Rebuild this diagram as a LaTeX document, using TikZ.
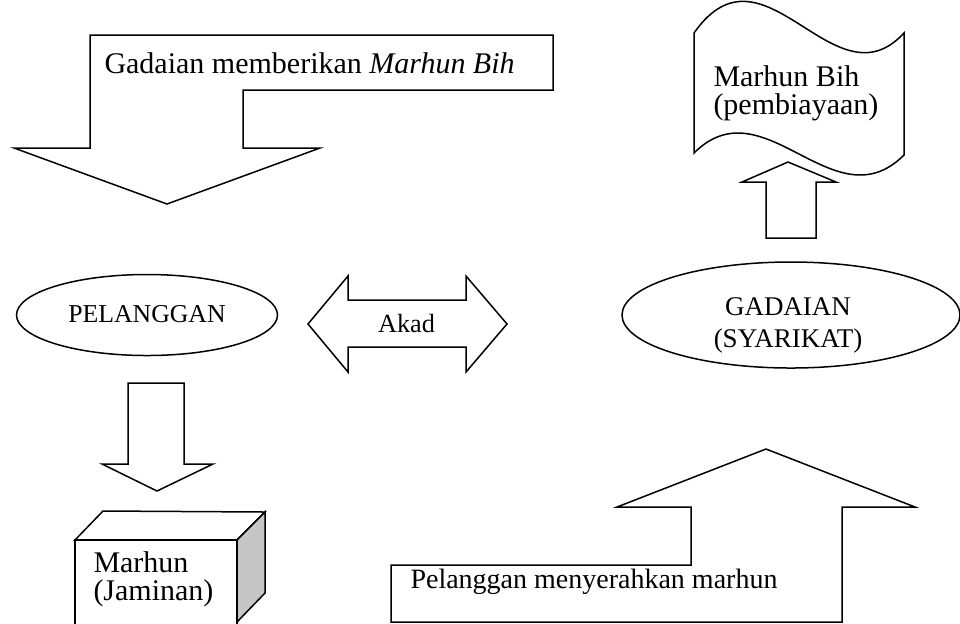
\documentclass[tikz,border=0pt]{standalone}
\usepackage{fontspec}
\setmainfont{Liberation Serif}
\usetikzlibrary{shapes.geometric}

\tikzset{
  blok/.style={draw, line width=0.6pt, fill=white},
  teks/.style={font=\fontsize{12}{14}\selectfont, inner sep=0pt},
  oval/.style={draw, ellipse, line width=0.6pt, inner sep=0pt}
}

\begin{document}
\begin{tikzpicture}[x=0.4pt, y=-0.4pt]
	\clip (0,0) rectangle (960,623);
	% bent arrow: gadaian -> pelanggan
	\draw[blok] (90,35) -- (553,35) -- (553,90) -- (243,90) -- (243,148) -- (320,148) -- (167,204) -- (14,148) -- (90,148) -- cycle;
	\node[teks, anchor=base west] (beri) at (104,73) {Gadaian memberikan \textit{Marhun Bih}};
	% marhun bih document
	\draw[blok] (694,33) .. controls (764,-67) and (834,109) .. (904,33) -- (904,155) .. controls (834,225) and (764,83) .. (694,153) -- cycle;
	\node[teks, anchor=north west, align=left, font=\fontsize{12}{11}\selectfont] (bih) at (713,65.5) {Marhun Bih\\(pembiayaan)};
	\draw[blok] (766,238) -- (766,182) -- (742,182) -- (788,162) -- (836,182) -- (816,182) -- (816,238) -- cycle;
	% the two parties
	\node[oval, minimum width=104.4pt, minimum height=32.4pt, teks, font=\fontsize{10.3}{12}\selectfont, text depth=1.2pt] (pelanggan) at (147,315) {PELANGGAN};
	\node[oval, minimum width=135.2pt, minimum height=42.4pt] (gadaian) at (791,315) {};
	\node[teks, anchor=north, align=center, font=\fontsize{10.8}{12.8}\selectfont] (gadaiantxt) at (788,297) {GADAIAN\\(SYARIKAT)};
	% akad
	\draw[blok] (308,324) -- (348,276) -- (348,300) -- (466,300) -- (466,276) -- (507,324) -- (466,372) -- (466,347) -- (348,347) -- (348,372) -- cycle;
	\node[teks, anchor=base, font=\fontsize{10.5}{12}\selectfont] (akad) at (406.5,332) {Akad};
	% marhun (jaminan)
	\draw[blok] (128,383) -- (184,383) -- (184,464) -- (213,464) -- (157,491) -- (102,464) -- (128,464) -- cycle;
	\draw[blok] (75,540) -- (103,511) -- (265,512) -- (237,540) -- cycle;
	\draw[blok, fill=gray!45] (237,540) -- (265,512) -- (265,593) -- (237,622) -- cycle;
	\draw[blok] (75,540) rectangle (237,640);
	\node[teks, anchor=north west, align=left, font=\fontsize{12}{11.2}\selectfont] (marhun) at (93,551.5) {Marhun\\(Jaminan)};
	% bent arrow: pelanggan -> gadaian
	\draw[blok] (391,565) -- (691,565) -- (691,507) -- (617,507) -- (766,449) -- (915,507) -- (842,507) -- (842,622) -- (391,622) -- cycle;
	\node[teks, anchor=base west, font=\fontsize{11.2}{13}\selectfont] (serah) at (410,588) {Pelanggan menyerahkan marhun};
\end{tikzpicture}
\end{document}
